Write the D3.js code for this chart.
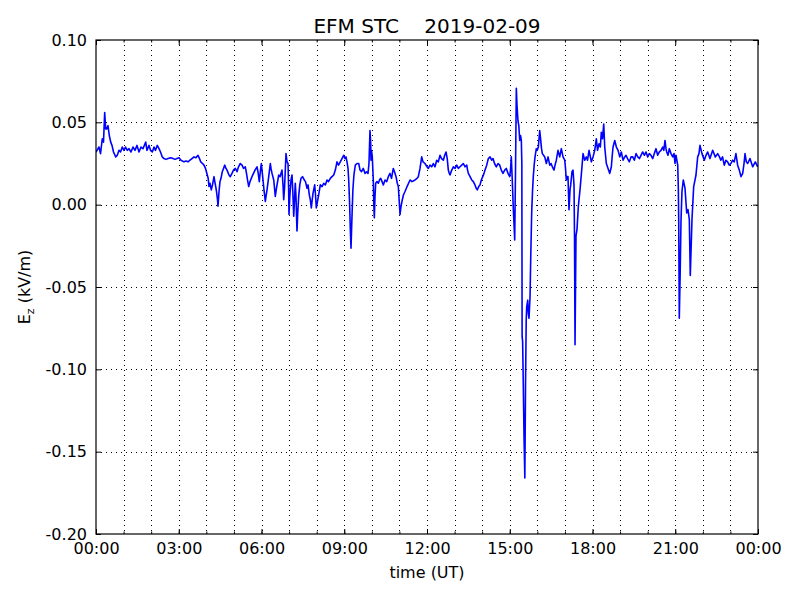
<!DOCTYPE html>
<html>
<head>
<meta charset="utf-8">
<script src="https://cdn.jsdelivr.net/npm/d3@7"></script>
<style>
  html, body { margin: 0; padding: 0; background: #ffffff; }
  svg { display: block; }
  text { font-family: "DejaVu Sans", sans-serif; fill: #000; }
</style>
</head>
<body>
<svg id="chart" width="800" height="600"></svg>
<script>
// ---- data ----
const chartTitle = "EFM STC\u00a0\u00a0\u00a0\u00a02019-02-09";
const xLabel = "time (UT)";
const yTickValues = [0.10, 0.05, 0.00, -0.05, -0.10, -0.15, -0.20];
const yTickLabels = ["0.10", "0.05", "0.00", "-0.05", "-0.10", "-0.15", "-0.20"];
const xTickLabels = ["00:00", "03:00", "06:00", "09:00", "12:00", "15:00", "18:00", "21:00", "00:00"];

// minutes after 00:00 UT
const minutes = [
  0, 6.5, 9.8, 13.7, 16.3, 18.9, 21.1, 23.3, 26.1, 28.9, 32, 34.8, 38.1, 42.9, 46.3, 50, 53.3, 57.2, 60.9, 64.2,
  68.1, 71.8, 76.1, 80.5, 84.8, 89.2, 93.5, 97.9, 102.2, 108.1, 110.9, 115.3, 118.6, 122.5, 126.2, 129.4, 133.3, 137, 140.3, 144.2,
  147.9, 152.3, 156.6, 162.5, 167.5, 171.8, 176.2, 180.5, 184.9, 191.4, 195.8, 200.1, 204.5, 208.8, 213.2, 217.5, 221.9, 225.1, 227.8, 231.7,
  234.9, 238.2, 242.1, 244, 245.8, 248, 250.8, 253.4, 256.7, 258.4, 260.4, 262.1, 264.3, 265.4, 267.6, 269.7, 271.9, 274.7, 277.4, 280,
  282.8, 285, 289.3, 292.1, 295.8, 299.1, 303, 306.7, 310, 313.9, 317.6, 320.9, 324.8, 327.4, 329.6, 332.2, 335, 339.3, 342.6, 345.9,
  350.2, 352.4, 355.2, 357.4, 359.6, 361.1, 363.3, 365.4, 368.3, 369.8, 372, 375.2, 379.2, 380.7, 382.9, 386.6, 388.3, 390, 392.6, 397.4,
  400.3, 404.6, 406.8, 408.3, 410.1, 413.3, 415.5, 417.7, 419, 419.8, 421.6, 424.2, 426.4, 428.1, 430.1, 431.8, 433.5, 435, 437.2, 439,
  440.9, 443.3, 445.9, 449.2, 453.1, 455.7, 459, 461.2, 464, 466.2, 468.4, 469.9, 472.1, 475.7, 477.5, 479.2, 481.8, 484.4, 487.9, 491.7,
  495.3, 498.8, 502.5, 505.7, 509.7, 513.4, 517.1, 520.6, 524.2, 527.5, 531.4, 535.1, 538.8, 541.6, 543.8, 546, 548.2, 549.7, 551.5, 553.2,
  554.7, 556.5, 558.8, 561, 564.1, 567.8, 571.5, 574.3, 577.5, 581.4, 585.2, 588.8, 591.7, 593.8, 596, 597.4, 598.2, 599.3, 601, 602.1,
  603.2, 604.3, 605.4, 606.9, 608.4, 611.3, 614.1, 616.7, 619.3, 622.2, 625, 628.7, 632.4, 635.9, 639.5, 642.8, 646.7, 649.3, 652.6, 655.4,
  657.6, 659.6, 661.3, 663.5, 666.3, 668.9, 672.2, 676.6, 683.1, 687.4, 694, 698.3, 701.1, 704.8, 708.5, 711.3, 715.7, 720, 722.9, 726.6,
  730.2, 733.7, 737.4, 741.1, 744.6, 748.3, 751.6, 755.5, 758.5, 761.4, 764, 766.4, 768.4, 770.1, 773.8, 777.3, 781, 784.7, 788.2, 791.8,
  795.5, 799.1, 802.8, 806.5, 808.2, 810, 813.7, 817.3, 820.8, 824.4, 827, 829.4, 832.5, 835.3, 838.2, 841.2, 844, 846.2, 849.9, 853.4,
  857.1, 860.7, 863.6, 866.9, 870.8, 874.5, 878.2, 881.6, 885.3, 889, 892.5, 896.2, 899.9, 901.6, 903.4, 905.5, 907.7, 910.8, 912.5, 914.3,
  915.8, 917.9, 919.7, 921.7, 923.4, 925.2, 926.3, 926.9, 928, 929.5, 931, 932.8, 934.3, 935.8, 936.9, 939.1, 940.4, 941.9, 944.1, 945.8,
  947.7, 949.5, 951.2, 953.1, 955, 957.8, 959.8, 962.2, 963.7, 965.2, 967.4, 969.1, 970.9, 973.5, 976.1, 979.6, 983.3, 987, 989.8, 992.7,
  996.3, 998.5, 1001.3, 1005, 1008.7, 1012.2, 1015.9, 1019.6, 1021.3, 1023, 1025, 1026.7, 1028.9, 1031.1, 1032.6, 1035.4, 1037.6, 1039.8, 1040.9, 1042,
  1043.1, 1044.1, 1046.3, 1049.2, 1052.8, 1056.5, 1059.4, 1063.1, 1066.6, 1069.2, 1072.5, 1074.6, 1077.5, 1081.2, 1084.8, 1088.3, 1090.9, 1094.2, 1097, 1099.2,
  1101.8, 1104.4, 1106.6, 1110.1, 1113.8, 1117.5, 1121, 1123, 1124.7, 1128.4, 1131.9, 1135.6, 1139.3, 1142.7, 1146.4, 1150.1, 1152.9, 1156.2, 1160.1, 1163.8,
  1167.5, 1171, 1174.7, 1178.4, 1181.9, 1185.5, 1189.2, 1192.7, 1196.4, 1200.1, 1203.6, 1207.3, 1211, 1214.4, 1218.1, 1221.8, 1225.3, 1229, 1232.7, 1235.1,
  1237.7, 1239.9, 1241.4, 1244.2, 1247.1, 1250.8, 1254.5, 1257.3, 1259.5, 1261.7, 1265.4, 1266.7, 1267.5, 1268.8, 1270.8, 1272.5, 1274.6, 1277.5, 1281.2, 1284.9,
  1287.7, 1290.6, 1292.7, 1294.7, 1296.4, 1300.1, 1305.1, 1308.8, 1311.6, 1313.8, 1318.2, 1323.2, 1326.9, 1330.5, 1335.5, 1341.4, 1347.1, 1352.3, 1356.2, 1359.1,
  1362.9, 1366.6, 1370.2, 1373.9, 1377.4, 1381.1, 1384.8, 1388.3, 1392, 1395.7, 1399.3, 1403, 1406.7, 1409.6, 1411.8, 1414.6, 1417.5, 1422.5, 1428.4, 1434.1,
  1439.3
];

// vertical electric field Ez (kV/m)
const ezValues = [
  0.032, 0.035, 0.031, 0.040, 0.038, 0.056, 0.046, 0.046, 0.048, 0.042, 0.038, 0.036, 0.032, 0.029, 0.030, 0.033, 0.032, 0.035, 0.033, 0.035,
  0.033, 0.034, 0.032, 0.035, 0.033, 0.036, 0.032, 0.035, 0.034, 0.038, 0.033, 0.036, 0.033, 0.032, 0.035, 0.033, 0.036, 0.034, 0.032, 0.029,
  0.028, 0.0275, 0.028, 0.0285, 0.028, 0.0275, 0.028, 0.0285, 0.027, 0.026, 0.0265, 0.026, 0.027, 0.028, 0.029, 0.0285, 0.030, 0.028, 0.026, 0.025,
  0.024, 0.022, 0.018, 0.016, 0.011, 0.013, 0.009, 0.012, 0.017, 0.014, 0.011, 0.008, 0.003, -0.001, 0.008, 0.014, 0.016, 0.020, 0.022, 0.024,
  0.022, 0.021, 0.018, 0.017, 0.019, 0.021, 0.022, 0.020, 0.023, 0.025, 0.024, 0.022, 0.023, 0.019, 0.015, 0.011, 0.014, 0.017, 0.019, 0.021,
  0.023, 0.020, 0.014, 0.020, 0.025, 0.021, 0.015, 0.009, 0.002, 0.005, 0.009, 0.016, 0.025, 0.022, 0.019, 0.015, 0.010, 0.005, 0.010, 0.018,
  0.017, 0.021, 0.012, 0.003, 0.010, 0.031, 0.026, 0.025, 0.010, -0.006, 0.005, 0.015, 0.018, 0.008, -0.007, 0.003, 0.013, 0.005, -0.016, -0.004,
  0.005, 0.012, 0.016, 0.017, 0.015, 0.014, 0.010, 0.012, 0.006, 0.003, -0.002, 0.002, 0.007, 0.012, 0.006, -0.002, 0.002, 0.006, 0.012, 0.011,
  0.013, 0.012, 0.015, 0.014, 0.016, 0.017, 0.018, 0.021, 0.026, 0.024, 0.026, 0.028, 0.030, 0.028, 0.029, 0.026, 0.022, 0.015, 0.002, -0.015,
  -0.0265, -0.010, 0.009, 0.018, 0.024, 0.025, 0.025, 0.021, 0.020, 0.022, 0.019, 0.020, 0.019, 0.025, 0.045, 0.038, 0.027, 0.033, 0.029, 0.022,
  0.015, 0.000, -0.008, 0.005, 0.013, 0.014, 0.013, 0.015, 0.016, 0.014, 0.012, 0.015, 0.014, 0.017, 0.019, 0.016, 0.022, 0.020, 0.017, 0.013,
  0.011, 0.002, -0.006, -0.001, 0.003, 0.006, 0.008, 0.011, 0.015, 0.014, 0.015, 0.016, 0.017, 0.022, 0.029, 0.026, 0.025, 0.023, 0.022, 0.024,
  0.023, 0.025, 0.023, 0.027, 0.026, 0.030, 0.028, 0.027, 0.030, 0.032, 0.028, 0.021, 0.019, 0.018, 0.021, 0.023, 0.022, 0.024, 0.022, 0.023,
  0.024, 0.025, 0.023, 0.024, 0.021, 0.019, 0.017, 0.015, 0.014, 0.012, 0.010, 0.009, 0.011, 0.012, 0.015, 0.017, 0.019, 0.021, 0.024, 0.028,
  0.029, 0.027, 0.028, 0.025, 0.023, 0.025, 0.024, 0.021, 0.019, 0.021, 0.022, 0.019, 0.017, 0.021, 0.029, 0.015, -0.002, -0.0215, 0.020, 0.0707,
  0.060, 0.051, 0.048, 0.039, 0.042, 0.039, 0.025, -0.080, -0.083, -0.110, -0.140, -0.166, -0.110, -0.070, -0.062, -0.058, -0.066, -0.069, -0.056, -0.030,
  -0.005, 0.008, 0.017, 0.024, 0.029, 0.034, 0.033, 0.035, 0.040, 0.045, 0.039, 0.034, 0.031, 0.030, 0.029, 0.025, 0.029, 0.024, 0.025, 0.023,
  0.021, 0.024, 0.027, 0.033, 0.029, 0.034, 0.029, 0.027, 0.022, 0.015, 0.017, 0.017, -0.003, 0.009, 0.012, 0.020, 0.021, 0.012, -0.020, -0.085,
  -0.050, -0.019, -0.015, -0.001, 0.009, 0.021, 0.031, 0.027, 0.029, 0.027, 0.033, 0.030, 0.026, 0.029, 0.033, 0.040, 0.033, 0.037, 0.035, 0.044,
  0.040, 0.049, 0.035, 0.025, 0.022, 0.019, 0.023, 0.030, 0.035, 0.039, 0.035, 0.033, 0.029, 0.032, 0.027, 0.029, 0.030, 0.028, 0.026, 0.029,
  0.029, 0.027, 0.031, 0.029, 0.028, 0.030, 0.032, 0.030, 0.032, 0.029, 0.031, 0.030, 0.028, 0.031, 0.034, 0.030, 0.032, 0.033, 0.035, 0.033,
  0.039, 0.034, 0.032, 0.030, 0.034, 0.031, 0.029, 0.031, 0.025, 0.030, 0.024, 0.010, -0.009, -0.069, -0.040, -0.010, 0.008, 0.015, 0.010, -0.005,
  -0.003, -0.009, -0.043, -0.025, -0.009, 0.011, 0.018, 0.029, 0.031, 0.036, 0.031, 0.027, 0.030, 0.032, 0.028, 0.033, 0.029, 0.031, 0.029, 0.027,
  0.029, 0.024, 0.027, 0.026, 0.024, 0.025, 0.027, 0.026, 0.031, 0.024, 0.021, 0.017, 0.019, 0.025, 0.031, 0.026, 0.025, 0.028, 0.023, 0.026,
  0.023
];

// ---- layout ----
const W = 800, H = 600;
const margin = { left: 96, right: 42, top: 40, bottom: 66 };
const innerW = W - margin.left - margin.right;
const innerH = H - margin.top - margin.bottom;

const svg = d3.select("#chart");
const g = svg.append("g").attr("transform", `translate(${margin.left},${margin.top})`);

const t0 = Date.UTC(2019, 1, 9, 0, 0, 0);
const x = d3.scaleUtc()
  .domain([new Date(t0), new Date(t0 + 24 * 3600 * 1000)])
  .range([0, innerW]);
const y = d3.scaleLinear().domain([-0.20, 0.10]).range([innerH, 0]);

const data = minutes.map((m, i) => ({ t: new Date(t0 + m * 60000), v: ezValues[i] }));

const majorX = d3.utcHour.every(3).range(x.domain()[0], new Date(t0 + 24 * 3600 * 1000 + 1));
const minorX = d3.utcHour.every(1).range(x.domain()[0], new Date(t0 + 24 * 3600 * 1000 + 1));

// grid (dotted)
const grid = g.append("g").attr("class", "grid");
grid.selectAll("line.vx").data(minorX.filter((d, i) => i > 0 && i < minorX.length - 1)).join("line")
  .attr("x1", d => Math.round(x(d)) + 0.5).attr("x2", d => Math.round(x(d)) + 0.5)
  .attr("y1", 0).attr("y2", innerH)
  .attr("stroke", "#000").attr("stroke-width", 1).attr("stroke-dasharray", "1,4");
grid.selectAll("line.hy").data(yTickValues.slice(1, -1)).join("line")
  .attr("x1", 0).attr("x2", innerW)
  .attr("y1", d => Math.round(y(d)) + 0.5).attr("y2", d => Math.round(y(d)) + 0.5)
  .attr("stroke", "#000").attr("stroke-width", 1).attr("stroke-dasharray", "1,4");

// data line
g.append("defs").append("clipPath").attr("id", "clip")
  .append("rect").attr("width", innerW).attr("height", innerH);
const line = d3.line().x(d => x(d.t)).y(d => y(d.v));
g.append("path").datum(data)
  .attr("clip-path", "url(#clip)")
  .attr("fill", "none").attr("stroke", "#0000ff").attr("stroke-width", 1.6)
  .attr("stroke-linejoin", "round")
  .attr("d", line);

// axes with inward ticks
const fmtY = v => yTickLabels[yTickValues.findIndex(t => Math.abs(t - v) < 1e-9)];
const fmtX = (d, i) => xTickLabels[majorX.findIndex(t => +t === +d)];

const axB = g.append("g").attr("transform", `translate(0,${innerH})`)
  .call(d3.axisBottom(x).tickValues(majorX).tickSize(-5).tickPadding(9).tickFormat(fmtX));
const axBm = g.append("g").attr("transform", `translate(0,${innerH})`)
  .call(d3.axisBottom(x).tickValues(minorX).tickSize(-2.5).tickFormat(""));
const axT = g.append("g")
  .call(d3.axisTop(x).tickValues(majorX).tickSize(-5).tickFormat(""));
const axTm = g.append("g")
  .call(d3.axisTop(x).tickValues(minorX).tickSize(-2.5).tickFormat(""));
const axL = g.append("g")
  .call(d3.axisLeft(y).tickValues(yTickValues).tickSize(-5).tickPadding(9).tickFormat(fmtY));
const axR = g.append("g").attr("transform", `translate(${innerW},0)`)
  .call(d3.axisRight(y).tickValues(yTickValues).tickSize(-5).tickFormat(""));

[axB, axBm, axT, axTm, axL, axR].forEach(a => {
  a.select(".domain").remove();
  a.selectAll(".tick line").attr("stroke", "#000").attr("stroke-width", 1);
  a.selectAll("text").attr("font-family", "DejaVu Sans").attr("font-size", 16).attr("fill", "#000");
});

// frame
g.append("rect").attr("x", 0).attr("y", 0).attr("width", innerW).attr("height", innerH)
  .attr("fill", "none").attr("stroke", "#000").attr("stroke-width", 1.2);

// title
svg.append("text").attr("x", margin.left + innerW / 2).attr("y", 33)
  .attr("text-anchor", "middle").attr("font-size", 20)
  .text(chartTitle);

// x label
svg.append("text").attr("x", margin.left + innerW / 2).attr("y", 578)
  .attr("text-anchor", "middle").attr("font-size", 16)
  .text(xLabel);

// y label with subscript
const yl = svg.append("text")
  .attr("transform", `translate(30,${margin.top + innerH / 2}) rotate(-90)`)
  .attr("text-anchor", "middle").attr("font-size", 16);
yl.append("tspan").text("E");
yl.append("tspan").attr("font-size", 11).attr("dy", 4).text("z");
yl.append("tspan").attr("dy", -4).text(" (kV/m)");
</script>
</body>
</html>
